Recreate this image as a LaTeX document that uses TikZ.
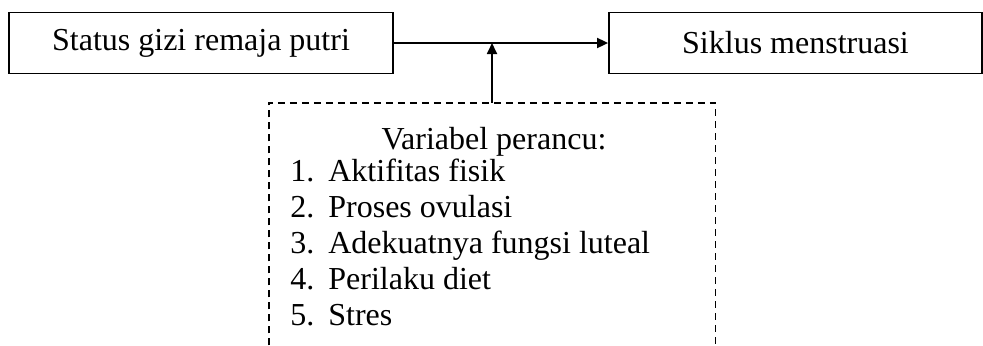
\documentclass[tikz,border=0pt]{standalone}
\usepackage{fontspec}
\setmainfont{Liberation Serif}
\usetikzlibrary{arrows.meta}

\begin{document}
\begin{tikzpicture}[
        x=0.5pt,
        y=0.5pt,
        font=\fontsize{16}{18}\selectfont,
        box/.style={
            draw,
            rectangle,
            line width=0.9pt,
            minimum height=30.5pt,
        },
        frame/.style={
            draw=none,
            rectangle,
            minimum width=223pt,
            minimum height=121pt,
        },
        item/.style={
            anchor=base west,
            inner sep=0pt,
        },
    ]
    \useasboundingbox (0, 0) rectangle (983, 345);

    \node[box, minimum width=192pt] (gizi) at (201, 302) {Status gizi remaja putri};
    \node[box, minimum width=186.5pt] (siklus) at (795.5, 302) {Siklus menstruasi};

    \node[frame] (perancu) at (492, 121) {};
    \draw[line width=0.9pt, dash pattern=on 3.5pt off 2.5pt]
        (perancu.south west) -- (perancu.north west)
        -- (perancu.north east) -- (perancu.south east);

    \node[anchor=base, inner sep=0pt] (judul) at (494, 196) {Variabel perancu:};
    \node[item] (v1) at (290, 164) {\makebox[19pt][l]{1.}Aktifitas fisik};
    \node[item] (v2) at (290, 128) {\makebox[19pt][l]{2.}Proses ovulasi};
    \node[item] (v3) at (290, 92) {\makebox[19pt][l]{3.}Adekuatnya fungsi luteal};
    \node[item] (v4) at (290, 56) {\makebox[19pt][l]{4.}Perilaku diet};
    \node[item] (v5) at (290, 20) {\makebox[19pt][l]{5.}Stres};

    \coordinate (temu) at (perancu.north |- gizi.east);

    \begin{scope}[line width=0.9pt, -{Triangle[length=5.5pt, width=5pt]}]
        \draw (gizi) -- (siklus);
        \draw (perancu.north) -- (temu);
    \end{scope}
\end{tikzpicture}
\end{document}
